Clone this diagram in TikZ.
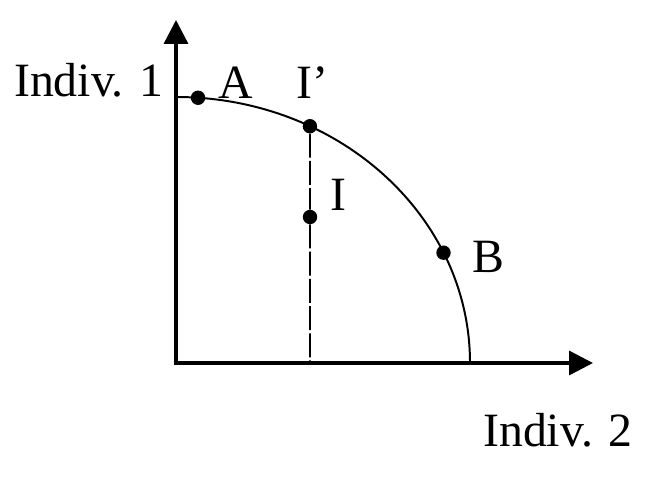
\documentclass[tikz,border=0pt]{standalone}
\usepackage{fontspec}
\setmainfont{Liberation Serif}
\usetikzlibrary{positioning, arrows.meta}
\tikzset{
  axis/.style={{Triangle[length=0.6cm, width=0.6cm]}-{Triangle[length=0.6cm, width=0.6cm]}, line width=2.4pt},
  frontier/.style={line width=1.4pt},
  vline/.style={line width=1.2pt, dash pattern=on 0.6cm off 0.08cm},
  dot/.style={circle, fill=black, inner sep=0pt, minimum size=0.36cm},
  lbl/.style={font=\fontsize{34}{38}\selectfont, inner sep=0pt},
}

\begin{document}
\begin{tikzpicture}
  \useasboundingbox (-4.4,-2.875) rectangle (11.75,9.075);
  \coordinate (O)    at (0,0);
  \coordinate (ytop) at (0,8.575);
  \coordinate (xend) at (10.425,0);
  \coordinate (top)  at (0,6.65);
  % axes and frontier
  \draw[axis] (ytop) -- (O) -- (xend);
  \draw[frontier] (top) arc[start angle=90, end angle=0, x radius=7.35, y radius=6.65];
  % points
  \node[dot] (A)  at (85.7:7.35 and 6.65) {};
  \node[dot] (Ip) at (62.9:7.35 and 6.65) {};
  \node[dot] (I)  at (3.35,3.65) {};
  \node[dot] (B)  at (24.5:7.35 and 6.65) {};
  \coordinate (foot) at (Ip |- O);
  \draw[vline] (Ip) -- (I);
  \draw[vline] (I) -- (foot);
  % labels
  \node[lbl, anchor=east] (ylab) at (-0.3,7.075) {Indiv. 1};
  \node[lbl] (xlab) at (9.55,-1.675) {Indiv. 2};
  \node[lbl] (Alab)  at (1.5,7.0) {A};
  \node[lbl] (Iplab) at (3.4,7.0) {I’};
  \node[lbl] (Ilab)  at (4.05,4.2) {I};
  \node[lbl] (Blab)  at (7.8,2.65) {B};
\end{tikzpicture}
\end{document}
